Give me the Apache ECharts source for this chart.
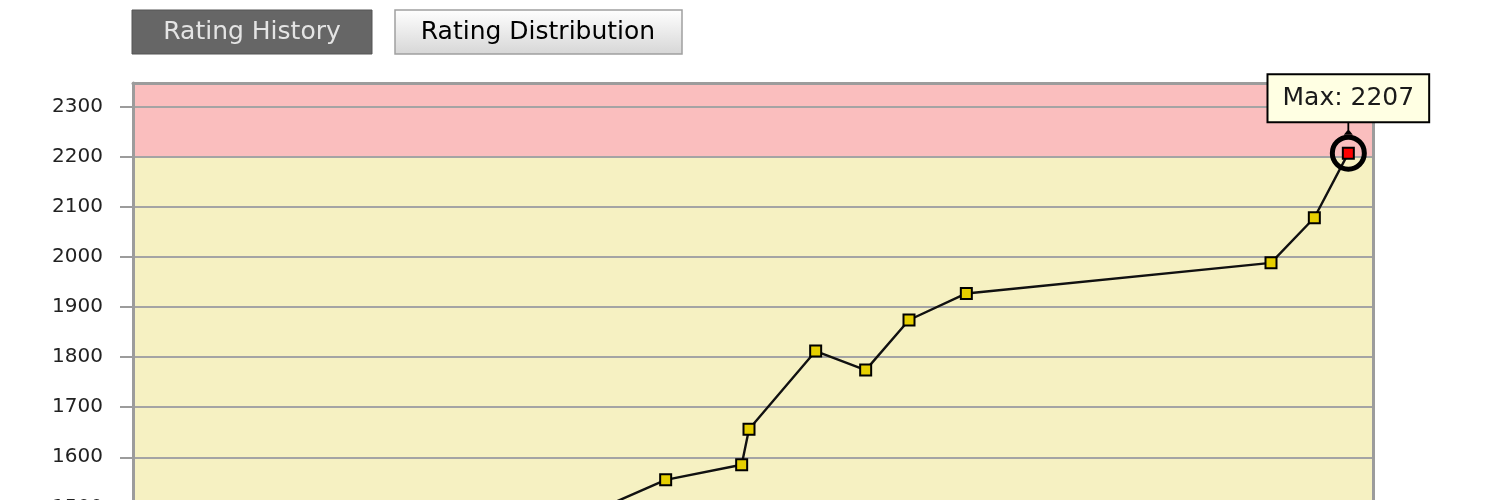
<!DOCTYPE html>
<html>
<head>
<meta charset="utf-8">
<script src="https://cdn.jsdelivr.net/npm/echarts@6/dist/echarts.min.js"></script>
<style>
html,body{margin:0;padding:0;background:#fff;width:1500px;height:500px;overflow:hidden;}
#wrap{width:1500px;height:500px;overflow:hidden;position:relative;}
#chart{width:1500px;height:880px;}
</style>
</head>
<body>
<div id="wrap"><div id="chart"></div></div>
<script>
// ---- data ----
const eventDays = [120, 260, 400, 520, 640, 799, 913, 924, 1024, 1099, 1164, 1250, 1707, 1772, 1823];
const ratings   = [1203, 1310, 1276, 1390, 1462, 1555, 1585, 1656, 1812, 1774, 1874, 1927, 1988, 2078, 2207];
const yTickValues = [900, 1000, 1100, 1200, 1300, 1400, 1500, 1600, 1700, 1800, 1900, 2000, 2100, 2200, 2300];
const tierBounds = [900, 1200, 1500, 2200, 2347];
const tabLabels = ['Rating History', 'Rating Distribution'];
const dayRange = [0, 1860];

const FONT = 'DejaVu Sans';
const maxRating = Math.max.apply(null, ratings);
const seriesData = eventDays.map((d, i) => [d, ratings[i]]);
const tierColors = ['#C6F0C6', '#C8C8F6', '#F6F1C2', '#FABEBE'];
const markAreaData = [];
for (let i = 0; i < tierBounds.length - 1; i++) {
  markAreaData.push([{ yAxis: tierBounds[i], itemStyle: { color: tierColors[i] } }, { yAxis: tierBounds[i + 1] }]);
}

const chart = echarts.init(document.getElementById('chart'), null, { renderer: 'canvas' });
const grey = '#9C9C9C';
const option = {
  animation: false,
  backgroundColor: '#ffffff',
  grid: { left: 133, top: 83, width: 1240, height: 725, show: false },
  xAxis: [
    { type: 'value', position: 'bottom', min: dayRange[0], max: dayRange[1], z: 2,
      axisLine: { show: true, onZero: false, lineStyle: { color: grey, width: 3 } },
      axisTick: { show: false }, splitLine: { show: false },
      axisLabel: { show: false } },
    { type: 'value', position: 'top', min: dayRange[0], max: dayRange[1], z: 2,
      axisLine: { show: true, onZero: false, lineStyle: { color: grey, width: 3 } },
      axisTick: { show: false }, splitLine: { show: false }, axisLabel: { show: false } }
  ],
  yAxis: [
    { type: 'value', position: 'left', min: tierBounds[0], max: tierBounds[tierBounds.length - 1], z: 2,
      axisLine: { show: true, onZero: false, lineStyle: { color: grey, width: 3 } },
      axisTick: { show: true, inside: false, length: 13, customValues: yTickValues, lineStyle: { color: grey, width: 2 } },
      axisLabel: { show: true, customValues: yTickValues, margin: 30, color: '#222', fontSize: 20, fontFamily: FONT,
        formatter: v => String(v) },
      splitLine: { show: true, lineStyle: { color: '#A4A4A4', width: 2 } } },
    { type: 'value', position: 'right', min: tierBounds[0], max: tierBounds[tierBounds.length - 1], z: 2,
      axisLine: { show: true, onZero: false, lineStyle: { color: grey, width: 3 } },
      axisTick: { show: false }, axisLabel: { show: false }, splitLine: { show: false } }
  ],
  series: [{
    type: 'line',
    z: 3,
    xAxisIndex: 0, yAxisIndex: 0,
    data: seriesData,
    symbol: 'rect',
    symbolSize: 11,
    showAllSymbol: true,
    lineStyle: { color: '#111', width: 2.4 },
    itemStyle: {
      color: p => (p.value[1] === maxRating ? '#FF0000' : '#E6CF00'),
      borderColor: '#000', borderWidth: 2
    },
    markArea: { silent: true, z: 1, data: markAreaData },
    markPoint: {
      z: 6,
      silent: true,
      data: [
        { type: 'max', name: 'Max', symbol: 'circle', symbolSize: 32,
          itemStyle: { color: 'rgba(0,0,0,0)', borderColor: '#000', borderWidth: 5 },
          label: { show: true, position: 'top', distance: 13.5, formatter: 'Max: {c}',
            fontFamily: FONT, fontSize: 25, color: '#1a1a1a', lineHeight: 26,
            backgroundColor: '#FFFFE3', borderColor: '#000', borderWidth: 2, padding: [10, 14] } },
        { type: 'max', name: 'pin', symbol: 'path://M4,0 L6,0 L6,8 L10,12 L0,12 L4,8 Z',
          symbolKeepAspect: false, symbolSize: [9, 13], symbolOffset: [0, -25],
          itemStyle: { color: '#000', borderWidth: 0 }, label: { show: false } }
      ]
    }
  }],
  graphic: [
    { type: 'rect', shape: { x: 132, y: 10, width: 240, height: 44 },
      style: { fill: '#666666', stroke: '#555555', lineWidth: 1 } },
    { type: 'text', x: 252, y: 32,
      style: { text: tabLabels[0], font: '25px "DejaVu Sans"', fill: '#E4E4E4', align: 'center', verticalAlign: 'middle' } },
    { type: 'rect', shape: { x: 395, y: 10, width: 287, height: 44 },
      style: { fill: new echarts.graphic.LinearGradient(0, 0, 0, 1, [{ offset: 0, color: '#FFFFFF' }, { offset: 1, color: '#D6D6D6' }]),
        stroke: '#A0A0A0', lineWidth: 1.5 } },
    { type: 'text', x: 538, y: 32,
      style: { text: tabLabels[1], font: '25px "DejaVu Sans"', fill: '#000', align: 'center', verticalAlign: 'middle' } }
  ]
};
chart.setOption(option);
</script>
</body>
</html>
